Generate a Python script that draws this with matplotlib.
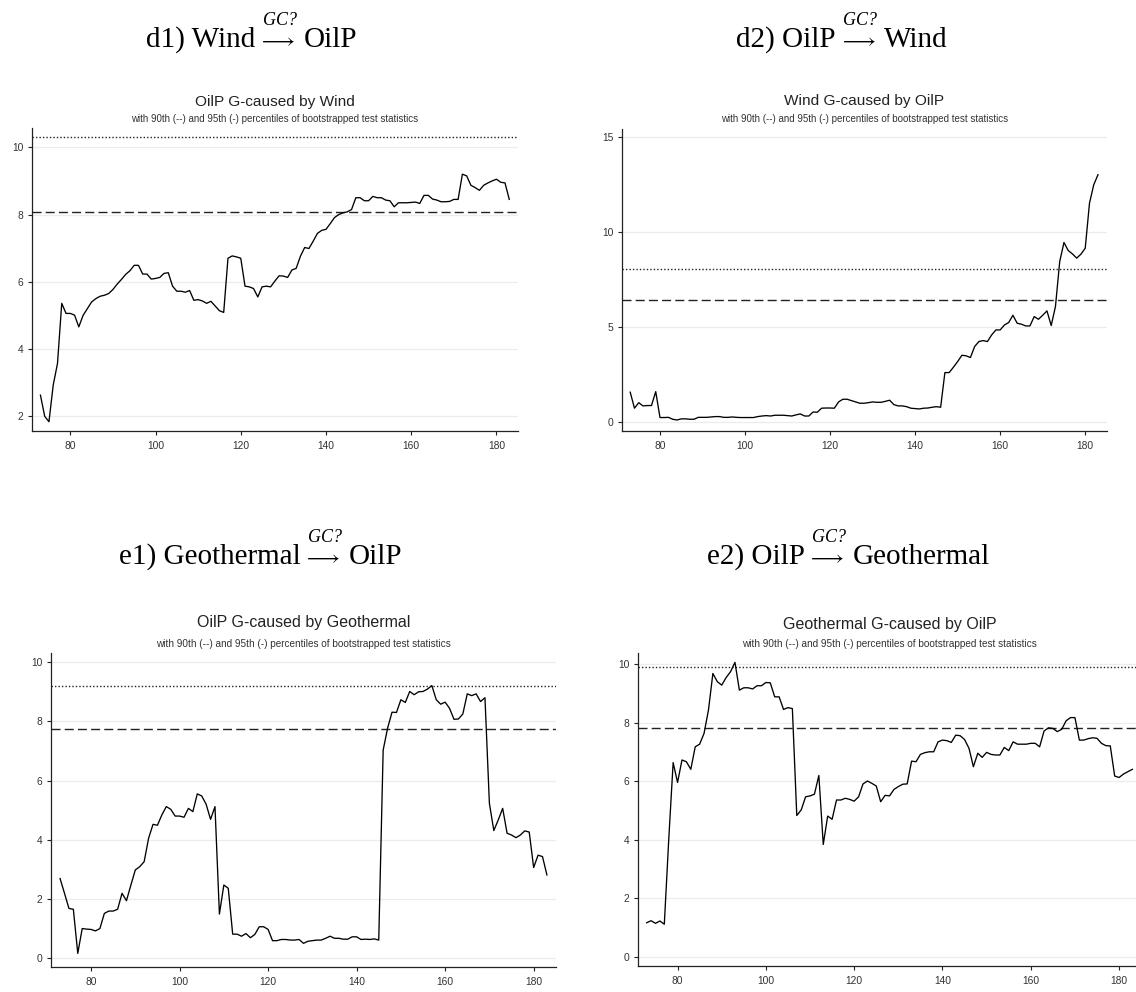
import matplotlib
matplotlib.use("Agg")
import matplotlib.pyplot as plt

plt.rcParams['mathtext.fontset'] = 'custom'
plt.rcParams['mathtext.rm'] = 'Liberation Serif'
plt.rcParams['mathtext.it'] = 'Liberation Serif:italic'

# rolling window end points
periods = list(range(73, 184))

wind_to_oilp = [
    2.63, 2.00, 1.84, 2.93, 3.57, 5.36, 5.06, 5.06, 5.01, 4.66,
    5.00, 5.20, 5.40, 5.50, 5.57, 5.60, 5.65, 5.77, 5.93, 6.07,
    6.22, 6.33, 6.49, 6.49, 6.23, 6.23, 6.08, 6.10, 6.13, 6.25,
    6.27, 5.87, 5.72, 5.72, 5.69, 5.74, 5.45, 5.47, 5.43, 5.36,
    5.42, 5.28, 5.14, 5.09, 6.70, 6.77, 6.74, 6.70, 5.87, 5.85,
    5.80, 5.55, 5.85, 5.87, 5.85, 6.02, 6.18, 6.17, 6.13, 6.35,
    6.40, 6.76, 7.02, 6.99, 7.21, 7.44, 7.53, 7.56, 7.73, 7.91,
    8.00, 8.05, 8.08, 8.15, 8.50, 8.50, 8.41, 8.41, 8.54, 8.50,
    8.50, 8.43, 8.41, 8.23, 8.35, 8.35, 8.35, 8.36, 8.37, 8.33,
    8.57, 8.57, 8.46, 8.43, 8.38, 8.38, 8.39, 8.45, 8.45, 9.20,
    9.15, 8.87, 8.80, 8.72, 8.87, 8.94, 9.00, 9.05, 8.96, 8.94, 8.45]

oilp_to_wind = [
    1.58, 0.74, 1.03, 0.86, 0.88, 0.88, 1.61, 0.25, 0.25, 0.26,
    0.16, 0.12, 0.18, 0.18, 0.16, 0.16, 0.26, 0.26, 0.26, 0.28,
    0.30, 0.30, 0.26, 0.26, 0.28, 0.26, 0.25, 0.25, 0.25, 0.25,
    0.30, 0.33, 0.35, 0.33, 0.37, 0.37, 0.37, 0.35, 0.33, 0.39,
    0.44, 0.33, 0.33, 0.54, 0.53, 0.74, 0.75, 0.75, 0.74, 1.07,
    1.21, 1.21, 1.14, 1.07, 1.00, 1.00, 1.03, 1.07, 1.05, 1.05,
    1.10, 1.16, 0.93, 0.86, 0.86, 0.82, 0.74, 0.72, 0.70, 0.74,
    0.75, 0.79, 0.82, 0.79, 2.61, 2.61, 2.89, 3.19, 3.52, 3.49,
    3.40, 3.98, 4.24, 4.29, 4.24, 4.59, 4.85, 4.85, 5.11, 5.24,
    5.62, 5.20, 5.15, 5.06, 5.06, 5.55, 5.41, 5.62, 5.85, 5.08,
    6.08, 8.44, 9.44, 9.02, 8.84, 8.62, 8.83, 9.14, 11.50, 12.47, 13.00]

geo_to_oilp = [
    2.69, 2.19, 1.68, 1.65, 0.16, 1.00, 0.98, 0.97, 0.92, 1.00,
    1.51, 1.59, 1.59, 1.65, 2.19, 1.94, 2.47, 2.98, 3.09, 3.26,
    4.05, 4.52, 4.49, 4.84, 5.12, 5.03, 4.80, 4.80, 4.76, 5.06,
    4.95, 5.55, 5.48, 5.20, 4.69, 5.12, 1.49, 2.47, 2.36, 0.81,
    0.81, 0.74, 0.83, 0.69, 0.80, 1.06, 1.06, 0.97, 0.59, 0.59,
    0.63, 0.63, 0.61, 0.61, 0.63, 0.50, 0.57, 0.59, 0.61, 0.61,
    0.67, 0.74, 0.67, 0.67, 0.64, 0.64, 0.72, 0.72, 0.63, 0.64,
    0.63, 0.65, 0.61, 7.03, 7.77, 8.31, 8.30, 8.73, 8.64, 9.01,
    8.90, 9.00, 9.01, 9.09, 9.21, 8.73, 8.58, 8.65, 8.44, 8.07,
    8.08, 8.25, 8.93, 8.87, 8.93, 8.67, 8.80, 5.23, 4.31, 4.67,
    5.06, 4.22, 4.16, 4.07, 4.16, 4.30, 4.26, 3.06, 3.48, 3.43, 2.81]

oilp_to_geo = [
    1.16, 1.23, 1.14, 1.22, 1.11, 4.00, 6.64, 5.96, 6.73, 6.67,
    6.41, 7.18, 7.27, 7.64, 8.44, 9.69, 9.41, 9.29, 9.55, 9.75,
    10.07, 9.12, 9.20, 9.20, 9.16, 9.27, 9.27, 9.38, 9.37, 8.89,
    8.89, 8.46, 8.52, 8.49, 4.83, 5.02, 5.47, 5.50, 5.56, 6.20,
    3.84, 4.81, 4.70, 5.36, 5.36, 5.42, 5.38, 5.32, 5.47, 5.91,
    6.01, 5.93, 5.84, 5.30, 5.52, 5.50, 5.72, 5.82, 5.90, 5.91,
    6.69, 6.67, 6.92, 6.98, 7.01, 7.01, 7.35, 7.41, 7.39, 7.33,
    7.58, 7.56, 7.43, 7.13, 6.50, 6.96, 6.82, 6.99, 6.92, 6.90,
    6.90, 7.16, 7.05, 7.35, 7.27, 7.27, 7.27, 7.30, 7.30, 7.18,
    7.72, 7.83, 7.81, 7.70, 7.78, 8.07, 8.18, 8.18, 7.41, 7.41,
    7.46, 7.49, 7.47, 7.30, 7.22, 7.21, 6.18, 6.13, 6.25, 6.33, 6.41]

# bootstrapped critical values: 90th (dashed) and 95th (dotted)
crit90 = [8.08, 6.44, 7.75, 7.84]
crit95 = [10.31, 8.06, 9.21, 9.90]

series = [wind_to_oilp, oilp_to_wind, geo_to_oilp, oilp_to_geo]
titles = ["OilP G-caused by Wind", "Wind G-caused by OilP",
          "OilP G-caused by Geothermal", "Geothermal G-caused by OilP"]
headers = [("d1) Wind", "OilP"), ("d2) OilP", "Wind"),
           ("e1) Geothermal", "OilP"), ("e2) OilP", "Geothermal")]
subtitle = "with 90th (--) and 95th (-) percentiles of bootstrapped test statistics"
yticks = [[2, 4, 6, 8, 10], [0, 5, 10, 15], [0, 2, 4, 6, 8, 10], [0, 2, 4, 6, 8, 10]]
ylims = [(1.564, 10.564), (-0.457, 15.40), (-0.31, 10.30), (-0.32, 10.38)]

W, H = 1136, 992
# axes boxes in pixels: left, right, top, bottom
boxes = [(31.7, 518, 128.3, 431), (621.5, 1106.7, 129, 431),
         (51, 556, 653.3, 967.3), (637.6, 1141.4, 653.3, 966)]
title_y = [(101.7, 119.3), (100.7, 119.3), (623, 644), (625, 644.3)]
header_pos = [(251.7, 46.7), (842, 46.7), (260.7, 563.5), (848.5, 563.5)]
tsize = [11.1, 11.1, 11.5, 11.5]
ssize = [7.0, 7.0, 7.2, 7.2]

fig = plt.figure(figsize=(W / 100, H / 100), dpi=100)
renderer = fig.canvas.get_renderer()
sans = 'Liberation Sans'
serif = 'Liberation Serif'

for i in range(4):
    l, r, t, b = boxes[i]
    ax = fig.add_axes([l / W, 1 - b / H, (r - l) / W, (b - t) / H])
    ax.plot(periods, series[i], color='black', lw=0.95, zorder=3)
    ax.axhline(crit90[i], color='#222222', lw=1.0, ls=(0, (6.5, 3)), zorder=2)
    ax.axhline(crit95[i], color='#222222', lw=1.0, ls=(0, (1, 1.5)), zorder=2)
    ax.set_xlim(70.95, 185.05)
    ax.set_ylim(*ylims[i])
    ax.set_xticks([80, 100, 120, 140, 160, 180])
    ax.set_yticks(yticks[i])
    ax.yaxis.grid(True, color='#ececec', lw=0.9, zorder=0)
    ax.set_axisbelow(True)
    for s in ['top', 'right']:
        ax.spines[s].set_visible(False)
    for s in ['left', 'bottom']:
        ax.spines[s].set_linewidth(0.9)
        ax.spines[s].set_color('#222222')
    ax.tick_params(axis='both', length=3, width=0.8, color='#222222',
                   labelsize=7.4, labelcolor='#333333')
    ax.tick_params(axis='x', pad=4.2)
    ax.tick_params(axis='y', pad=3.0)
    for lab in ax.get_xticklabels() + ax.get_yticklabels():
        lab.set_family(sans)

    cx = (l + r) / 2 / W
    fig.text(cx, 1 - title_y[i][0] / H, titles[i], ha='center', va='center',
             fontsize=tsize[i], family=sans, color='#222222')
    fig.text(cx, 1 - title_y[i][1] / H, subtitle, ha='center', va='center',
             fontsize=ssize[i], family=sans, color='#333333')

    # header: "left  --GC?-->  right", laid out piece by piece in pixels
    hx, hy = header_pos[i]
    left_txt, right_txt = headers[i]
    base = 1 - hy / H
    tl = fig.text(0, base, left_txt, ha='left', va='baseline',
                  fontsize=21, family=serif)
    tr = fig.text(0, base, right_txt, ha='left', va='baseline',
                  fontsize=21, family=serif)
    ta = fig.text(0, base, r"$\longrightarrow$", ha='left', va='baseline',
                  fontsize=15)
    wl = tl.get_window_extent(renderer).width
    wr = tr.get_window_extent(renderer).width
    wa = ta.get_window_extent(renderer).width
    gap1, gap2 = 3, 9
    total = wl + gap1 + wa + gap2 + wr
    x0 = hx - total / 2
    tl.set_x(x0 / W)
    ta.set_x((x0 + wl + gap1) / W)
    tr.set_x((x0 + wl + gap1 + wa + gap2) / W)
    fig.text((x0 + wl + gap1 + wa / 2 + 3) / W, 1 - (hy - 21.5) / H, "GC?",
             ha='center', va='baseline', fontsize=13, family=serif,
             style='italic')

fig.savefig("out.png", dpi=100)
